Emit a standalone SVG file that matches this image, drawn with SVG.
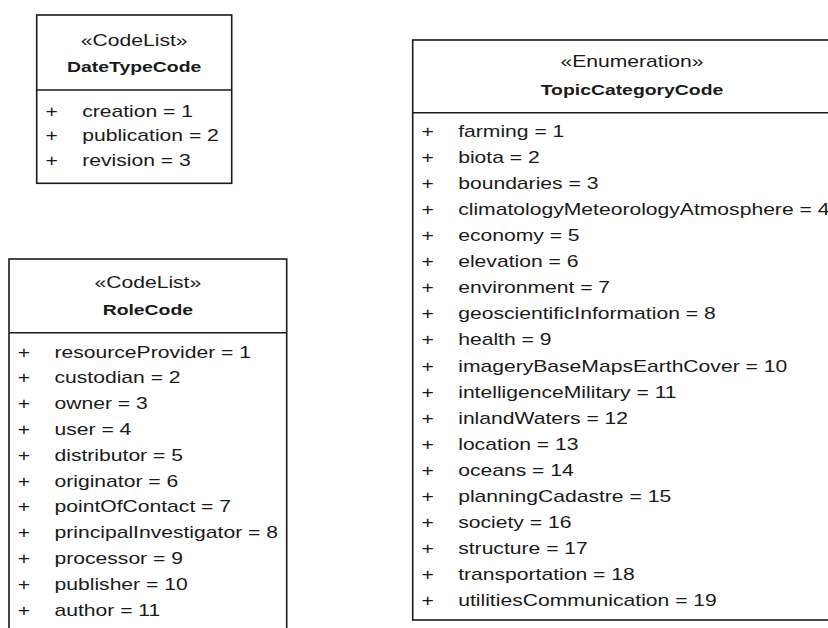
<svg xmlns="http://www.w3.org/2000/svg" width="828" height="628" viewBox="0 0 828 628">
  <style>
    .box { fill: #ffffff; stroke: #1a1a1a; stroke-width: 1.6; }
    .sep { stroke: #1a1a1a; stroke-width: 1.6; }
    text { font-family: "Liberation Sans", Arial, sans-serif; font-size: 16px; fill: #1a1a1a; }
    .st { text-anchor: middle; }
    .nm { text-anchor: middle; font-weight: bold; font-size: 15.5px; }
    .pl { text-anchor: middle; }
  </style>
  <rect x="0" y="0" width="828" height="628" fill="#ffffff"/>

  <g id="DateTypeCode">
    <rect class="box" x="36.7" y="15" width="195" height="168.3"/>
    <line class="sep" x1="36.7" y1="90" x2="231.7" y2="90"/>
    <g transform="scale(1.32 1)">
      <text class="st" x="101.67" y="46">«CodeList»</text>
      <text class="pl" x="39.17" y="117">+</text>
      <text x="62.27" y="117">creation = 1</text>
      <text class="pl" x="39.17" y="141.5">+</text>
      <text x="62.27" y="141.5">publication = 2</text>
      <text class="pl" x="39.17" y="166">+</text>
      <text x="62.27" y="166">revision = 3</text>
    </g>
    <g transform="scale(1.25 1)">
      <text class="nm" x="107.36" y="71.7">DateTypeCode</text>
    </g>
  </g>

  <g id="RoleCode">
    <rect class="box" x="9" y="259" width="277.7" height="400"/>
    <line class="sep" x1="9" y1="332.7" x2="286.7" y2="332.7"/>
    <g transform="scale(1.32 1)">
      <text class="st" x="112.01" y="288.5">«CodeList»</text>
      <text class="pl" x="18.18" y="357.7">+</text><text x="41.29" y="357.7">resourceProvider = 1</text>
      <text class="pl" x="18.18" y="383.5">+</text><text x="41.29" y="383.5">custodian = 2</text>
      <text class="pl" x="18.18" y="409.3">+</text><text x="41.29" y="409.3">owner = 3</text>
      <text class="pl" x="18.18" y="435.1">+</text><text x="41.29" y="435.1">user = 4</text>
      <text class="pl" x="18.18" y="460.9">+</text><text x="41.29" y="460.9">distributor = 5</text>
      <text class="pl" x="18.18" y="486.7">+</text><text x="41.29" y="486.7">originator = 6</text>
      <text class="pl" x="18.18" y="512.5">+</text><text x="41.29" y="512.5">pointOfContact = 7</text>
      <text class="pl" x="18.18" y="538.3">+</text><text x="41.29" y="538.3">principalInvestigator = 8</text>
      <text class="pl" x="18.18" y="564.1">+</text><text x="41.29" y="564.1">processor = 9</text>
      <text class="pl" x="18.18" y="589.9">+</text><text x="41.29" y="589.9">publisher = 10</text>
      <text class="pl" x="18.18" y="615.7">+</text><text x="41.29" y="615.7">author = 11</text>
    </g>
    <g transform="scale(1.25 1)">
      <text class="nm" x="118.28" y="315.5">RoleCode</text>
    </g>
  </g>

  <g id="TopicCategoryCode">
    <rect class="box" x="412.7" y="40" width="438.3" height="580"/>
    <line class="sep" x1="412.7" y1="112.7" x2="851" y2="112.7"/>
    <g transform="scale(1.32 1)">
      <text class="st" x="478.79" y="67.5">«Enumeration»</text>
      <text class="pl" x="324.02" y="136.7">+</text><text x="347.12" y="136.7">farming = 1</text>
      <text class="pl" x="324.02" y="162.8">+</text><text x="347.12" y="162.8">biota = 2</text>
      <text class="pl" x="324.02" y="188.9">+</text><text x="347.12" y="188.9">boundaries = 3</text>
      <text class="pl" x="324.02" y="215">+</text><text x="347.12" y="215">climatologyMeteorologyAtmosphere = 4</text>
      <text class="pl" x="324.02" y="241.1">+</text><text x="347.12" y="241.1">economy = 5</text>
      <text class="pl" x="324.02" y="267.2">+</text><text x="347.12" y="267.2">elevation = 6</text>
      <text class="pl" x="324.02" y="293.3">+</text><text x="347.12" y="293.3">environment = 7</text>
      <text class="pl" x="324.02" y="319.4">+</text><text x="347.12" y="319.4">geoscientificInformation = 8</text>
      <text class="pl" x="324.02" y="345.5">+</text><text x="347.12" y="345.5">health = 9</text>
      <text class="pl" x="324.02" y="371.6">+</text><text x="347.12" y="371.6">imageryBaseMapsEarthCover = 10</text>
      <text class="pl" x="324.02" y="397.7">+</text><text x="347.12" y="397.7">intelligenceMilitary = 11</text>
      <text class="pl" x="324.02" y="423.8">+</text><text x="347.12" y="423.8">inlandWaters = 12</text>
      <text class="pl" x="324.02" y="449.9">+</text><text x="347.12" y="449.9">location = 13</text>
      <text class="pl" x="324.02" y="476">+</text><text x="347.12" y="476">oceans = 14</text>
      <text class="pl" x="324.02" y="502.1">+</text><text x="347.12" y="502.1">planningCadastre = 15</text>
      <text class="pl" x="324.02" y="528.2">+</text><text x="347.12" y="528.2">society = 16</text>
      <text class="pl" x="324.02" y="554.3">+</text><text x="347.12" y="554.3">structure = 17</text>
      <text class="pl" x="324.02" y="580.4">+</text><text x="347.12" y="580.4">transportation = 18</text>
      <text class="pl" x="324.02" y="606.5">+</text><text x="347.12" y="606.5">utilitiesCommunication = 19</text>
    </g>
    <g transform="scale(1.25 1)">
      <text class="nm" x="505.6" y="95.5">TopicCategoryCode</text>
    </g>
  </g>

  <g id="connectors"></g>
</svg>
